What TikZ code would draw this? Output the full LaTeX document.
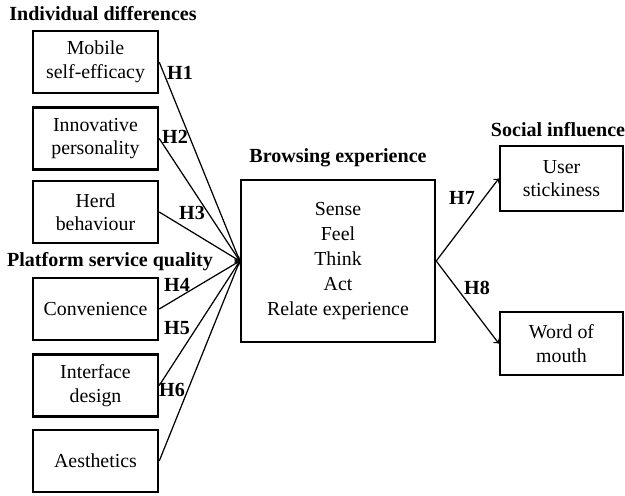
\documentclass[tikz,border=0pt]{standalone}
\usepackage{fontspec}
\setmainfont{Liberation Serif}
\usetikzlibrary{positioning,arrows}
\tikzset{
  box/.style={rectangle, draw, line width=1.4pt, align=center, minimum width=2.5cm, minimum height=1.24cm, font=\fontsize{11.3}{13.4}\selectfont},
  heading/.style={font=\fontsize{11.4}{13}\selectfont\bfseries},
  hyp/.style={font=\fontsize{11.4}{13}\selectfont\bfseries},
  arr/.style={->, line width=0.7pt}
}
\begin{document}
\begin{tikzpicture}[x=0.02cm, y=-0.02cm]
  \useasboundingbox (0,0) rectangle (625,495);
  % individual differences
  \node[heading] (hid) at (103, 14) {Individual differences};
  \node[box] (mse) at (95.5, 62) {Mobile\\self-efficacy};
  \node[box] (inn) at (95.5, 138.5) {Innovative\\personality};
  \node[box] (herd) at (95.5, 212) {Herd\\behaviour};
  % platform service quality
  \node[heading] (hps) at (110, 262) {Platform service quality};
  \node[box] (conv) at (95.5, 309) {Convenience};
  \node[box] (intf) at (95.5, 385.5) {Interface\\design};
  \node[box] (aes) at (95.5, 461) {Aesthetics};
  % browsing experience
  \node[heading] (hbe) at (338, 158) {Browsing experience};
  \node[box, minimum width=3.88cm, minimum height=3.24cm, font=\fontsize{11.3}{14.2}\selectfont] (brw) at (338, 261) {Sense\\Feel\\Think\\Act\\Relate experience};
  % social influence
  \node[heading] (hsi) at (558, 130) {Social influence};
  \node[box, minimum width=2.46cm, minimum height=1.3cm] (stick) at (561.5, 178.5) {User\\stickiness};
  \node[box, minimum width=2.46cm, minimum height=1.26cm] (wom) at (561.5, 343.5) {Word of\\mouth};

  \draw[arr] (mse.east) -- (brw.west);
  \draw[arr] (inn.east) -- (brw.west);
  \draw[arr] (herd.east) -- (brw.west);
  \draw[arr] (conv.east) -- (brw.west);
  \draw[arr] (intf.east) -- (brw.west);
  \draw[arr] (aes.east) -- (brw.west);
  \draw[arr] (brw.east) -- (stick.west);
  \draw[arr] (brw.east) -- (wom.west);

  \node[hyp] (h1) at (180, 73) {H1};
  \node[hyp] (h2) at (175, 137) {H2};
  \node[hyp] (h3) at (192, 213) {H3};
  \node[hyp] (h4) at (177, 285) {H4};
  \node[hyp] (h5) at (177, 328) {H5};
  \node[hyp] (h6) at (172, 390) {H6};
  \node[hyp] (h7) at (462, 198) {H7};
  \node[hyp] (h8) at (477, 288) {H8};
\end{tikzpicture}
\end{document}
